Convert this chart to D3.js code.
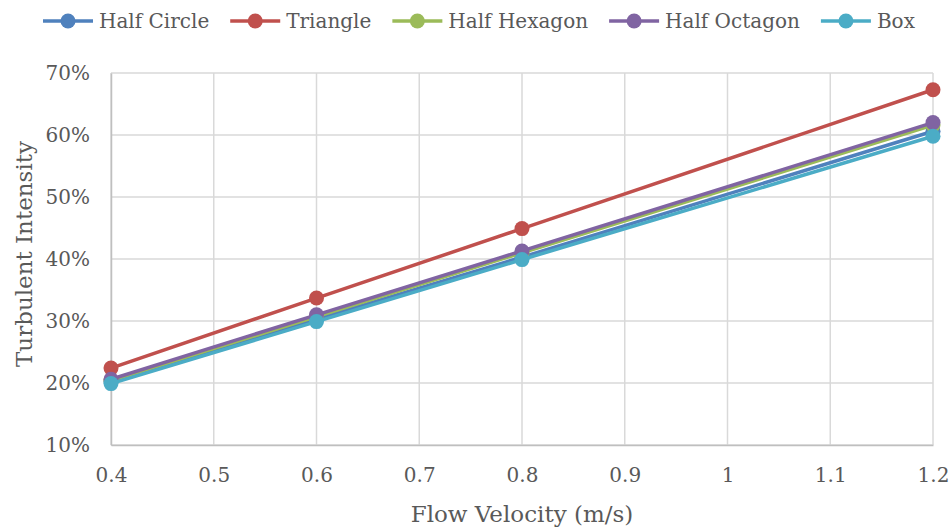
<!DOCTYPE html>
<html>
<head>
<meta charset="utf-8">
<script src="https://cdn.jsdelivr.net/npm/d3@7"></script>
<style>
  html, body { margin: 0; padding: 0; background: #fff; }
  svg text { font-family: "DejaVu Serif", serif; fill: #595959; }
</style>
</head>
<body>
<svg id="chart" width="950" height="530"></svg>
<script>
// Flow velocity (m/s) at which each section was measured
const velocities = [0.4, 0.6, 0.8, 1.2];

// Turbulent intensity (%) per cross-section shape
const seriesNames = ["Half Circle", "Triangle", "Half Hexagon", "Half Octagon", "Box"];
const halfCircle  = [20.2, 30.3, 40.3, 60.6];
const triangle    = [22.4, 33.7, 44.9, 67.3];
const halfHexagon = [20.4, 30.7, 41.0, 61.6];
const halfOctagon = [20.6, 31.0, 41.3, 62.0];
const box         = [19.9, 29.9, 39.9, 59.8];

const xTicks = [0.4, 0.5, 0.6, 0.7, 0.8, 0.9, 1.0, 1.1, 1.2];
const yTicks = [10, 20, 30, 40, 50, 60, 70];

const colors = ["#4F81BD", "#C0504D", "#9BBB59", "#8064A2", "#4BACC6"];
const seriesValues = [halfCircle, triangle, halfHexagon, halfOctagon, box];

const svg = d3.select("#chart");
const margin = { left: 111, right: 17, top: 73, bottom: 85 };
const W = 950, H = 530;

const x = d3.scaleLinear().domain([0.4, 1.2]).range([margin.left, W - margin.right]);
const y = d3.scaleLinear().domain([10, 70]).range([H - margin.bottom, margin.top]);

// Gridlines
const grid = svg.append("g");
grid.selectAll(".vg").data(xTicks).enter().append("line")
  .attr("x1", d => x(d)).attr("x2", d => x(d))
  .attr("y1", y(10)).attr("y2", y(70))
  .attr("stroke", "#d9d9d9").attr("stroke-width", 1.5);
grid.selectAll(".hg").data(yTicks).enter().append("line")
  .attr("x1", x(0.4)).attr("x2", x(1.2))
  .attr("y1", d => y(d)).attr("y2", d => y(d))
  .attr("stroke", "#d9d9d9").attr("stroke-width", 1.5);

// Axes
const xAxis = d3.axisBottom(x).tickValues(xTicks).tickSize(0).tickPadding(23)
  .tickFormat(d => d3.format("")(+d.toFixed(1)));
const gx = svg.append("g").attr("transform", `translate(0,${y(10)})`).call(xAxis);
gx.select(".domain").attr("stroke", "#bfbfbf").attr("stroke-width", 1.5);
gx.selectAll("text").attr("font-size", 20).attr("fill", "#595959")
  .style("font-family", "'DejaVu Serif', serif");

const yAxis = d3.axisLeft(y).tickValues(yTicks).tickSize(0).tickPadding(21)
  .tickFormat(d => d + "%");
const gy = svg.append("g").attr("transform", `translate(${x(0.4)},0)`).call(yAxis);
gy.select(".domain").attr("stroke", "#bfbfbf").attr("stroke-width", 1.5);
gy.selectAll("text").attr("font-size", 20).attr("fill", "#595959")
  .style("font-family", "'DejaVu Serif', serif");

// Axis titles
svg.append("text")
  .attr("x", (x(0.4) + x(1.2)) / 2).attr("y", 522)
  .attr("text-anchor", "middle").attr("font-size", 23)
  .text("Flow Velocity (m/s)");
svg.append("text")
  .attr("transform", `translate(32,254) rotate(-90)`)
  .attr("text-anchor", "middle").attr("font-size", 23)
  .text("Turbulent Intensity");

// Series lines and markers
const line = d3.line().x((d, i) => x(velocities[i])).y(d => y(d));
seriesValues.forEach((vals, s) => {
  const g = svg.append("g");
  g.append("path").datum(vals).attr("d", line)
    .attr("fill", "none").attr("stroke", colors[s]).attr("stroke-width", 3.5)
    .attr("stroke-linejoin", "round");
  g.selectAll("circle").data(vals).enter().append("circle")
    .attr("cx", (d, i) => x(velocities[i])).attr("cy", d => y(d))
    .attr("r", 7.5).attr("fill", colors[s]);
});

// Legend
const legend = svg.append("g").attr("transform", "translate(0,21)");
let lx = 43;
seriesNames.forEach((name, s) => {
  const item = legend.append("g").attr("transform", `translate(${lx},0)`);
  item.append("line").attr("x1", 0).attr("x2", 50).attr("y1", 0).attr("y2", 0)
    .attr("stroke", colors[s]).attr("stroke-width", 3.5);
  item.append("circle").attr("cx", 25).attr("cy", 0).attr("r", 7.5).attr("fill", colors[s]);
  const t = item.append("text").attr("x", 56).attr("y", 7).attr("font-size", 20).text(name);
  lx += 56 + t.node().getComputedTextLength() + 21;
});
</script>
</body>
</html>
